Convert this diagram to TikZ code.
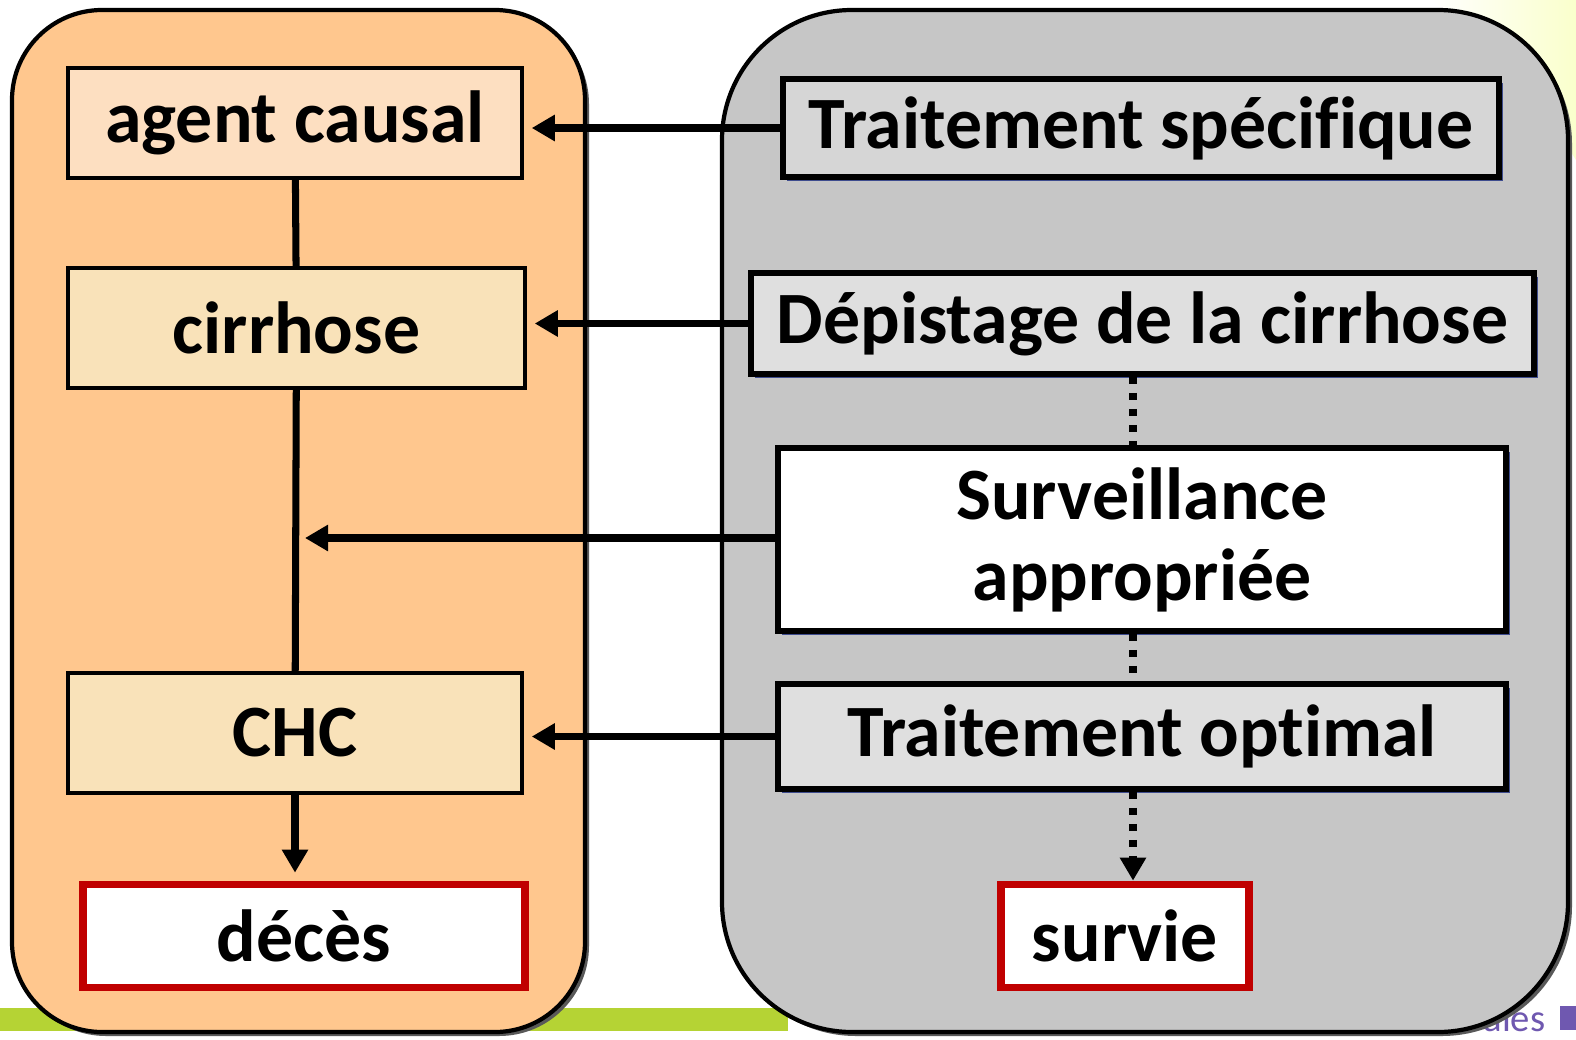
\documentclass[tikz,border=0pt]{standalone}
\usepackage{fontspec}
\setmainfont{Carlito}[Ligatures={NoCommon}]
\usetikzlibrary{arrows.meta,shadows}

\definecolor{peach}{HTML}{FFC78E}
\definecolor{peachlight}{HTML}{FDDFC1}
\definecolor{wheatbox}{HTML}{F9E2B9}
\definecolor{panelgray}{HTML}{C6C6C6}
\definecolor{boxgray}{HTML}{D6D6D6}
\definecolor{boxgraylight}{HTML}{DFDFDF}
\definecolor{deadred}{HTML}{C00000}
\definecolor{slidegreen}{HTML}{B5D334}
\definecolor{slidepurple}{HTML}{6F58B0}
\definecolor{boxblue}{HTML}{3E4C8E}

\tikzset{
    txt/.style={font=\fontsize{21}{25}\selectfont\bfseries, align=center, inner sep=0pt},
    panel/.style={draw=black, line width=1.2pt,
        drop shadow={shadow xshift=0.04cm, shadow yshift=-0.04cm, fill=black!65, opacity=1}},
    stage/.style={txt, draw=black, line width=1pt},
    action/.style={txt, draw=black, line width=1.6pt,
        drop shadow={shadow xshift=0.04cm, shadow yshift=-0.04cm, fill=boxblue, opacity=1}},
    outcome/.style={txt, draw=deadred, line width=2.2pt, fill=white},
    link/.style={line width=2pt},
    act/.style={line width=2pt, -{Triangle[length=0.23cm, width=0.25cm]}, shorten >=0.08cm},
    maybe/.style={line width=2pt, dash pattern=on 0.07cm off 0.09cm}
}

\begin{document}
\begin{tikzpicture}
        \useasboundingbox (0,0) rectangle (15.76,-10.39);
        \fill[white] (0,0) rectangle (15.76,-10.39);
        % slide background bits
        \shade[left color=white, right color=green!10!yellow!20!white] (14.3,0) -- (15.76,0) -- (15.76,-1.6) -- (15.0,-0.4) -- cycle;
        \fill[slidegreen] (0,-10.08) rectangle (7.88,-10.31);
        \node[font=\fontsize{11}{13}\selectfont, text=slidepurple, anchor=east, inner sep=0pt] (ales) at (15.46,-10.18) {ales};
        \fill[slidepurple] (15.6,-10.06) rectangle (15.76,-10.30);

        % the two panels
        \draw[panel, fill=peach, rounded corners=0.9cm] (0.12,-0.10) rectangle (5.85,-10.32);
        \draw[panel, fill=panelgray, rounded corners=1.3cm] (7.22,-0.10) rectangle (15.68,-10.32);

        \begin{scope}
            \node[stage, fill=peachlight, minimum width=4.54cm, minimum height=1.10cm] (agent) at (2.95, -1.23) {agent causal};
            \node[stage, fill=wheatbox, minimum width=4.57cm, minimum height=1.20cm] (cirr) at (2.965, -3.28) {cirrhose};
            \node[stage, fill=wheatbox, minimum width=4.54cm, minimum height=1.20cm] (chc) at (2.95, -7.33) {CHC};
            \node[outcome, minimum width=4.42cm, minimum height=1.03cm] (deces) at (3.04, -9.36) {décès};
        \end{scope}
        \begin{scope}
            \node[action, fill=boxgray, minimum width=7.16cm, minimum height=0.98cm] (tspec) at (11.41, -1.28) {Traitement spécif\kern0pt ique};
            \node[action, fill=boxgraylight, minimum width=7.83cm, minimum height=1.01cm] (depist) at (11.425, -3.235) {Dépistage de la cirrhose};
            \node[action, fill=white, minimum width=7.28cm, minimum height=1.83cm] (surv) at (11.42, -5.395) {Surveillance\\[-2pt]appropriée};
            \node[action, fill=boxgraylight, minimum width=7.28cm, minimum height=1.05cm] (topt) at (11.42, -7.365) {Traitement opt\kern0pt imal};
            \node[outcome, minimum width=2.48cm, minimum height=1.03cm] (survie) at (11.25, -9.36) {survie};
        \end{scope}
        \coordinate (course) at (2.95, -5.38);
        \coordinate (dots) at (11.33, 0);

        \begin{scope}
            \path [link] (agent) edge (cirr);
            \path [link] (cirr) edge (chc);
            \path [act] (chc.south) edge (chc.south |- deces.north);
            \path [act] (tspec.west) edge (tspec.west -| agent.east);
            \path [act] (depist.west) edge (depist.west -| cirr.east);
            \path [act, shorten >=0.1cm] (surv.west |- course) edge (course);
            \path [act] (topt.west) edge (topt.west -| chc.east);
            \path [maybe] (depist.south -| dots) edge (surv.north -| dots);
            \path [maybe] (surv.south -| dots) edge (topt.north -| dots);
            \path [maybe, -{Triangle[length=0.23cm, width=0.25cm]}] (topt.south -| dots) edge (survie.north -| dots);
        \end{scope}
    \end{tikzpicture}
\end{document}
